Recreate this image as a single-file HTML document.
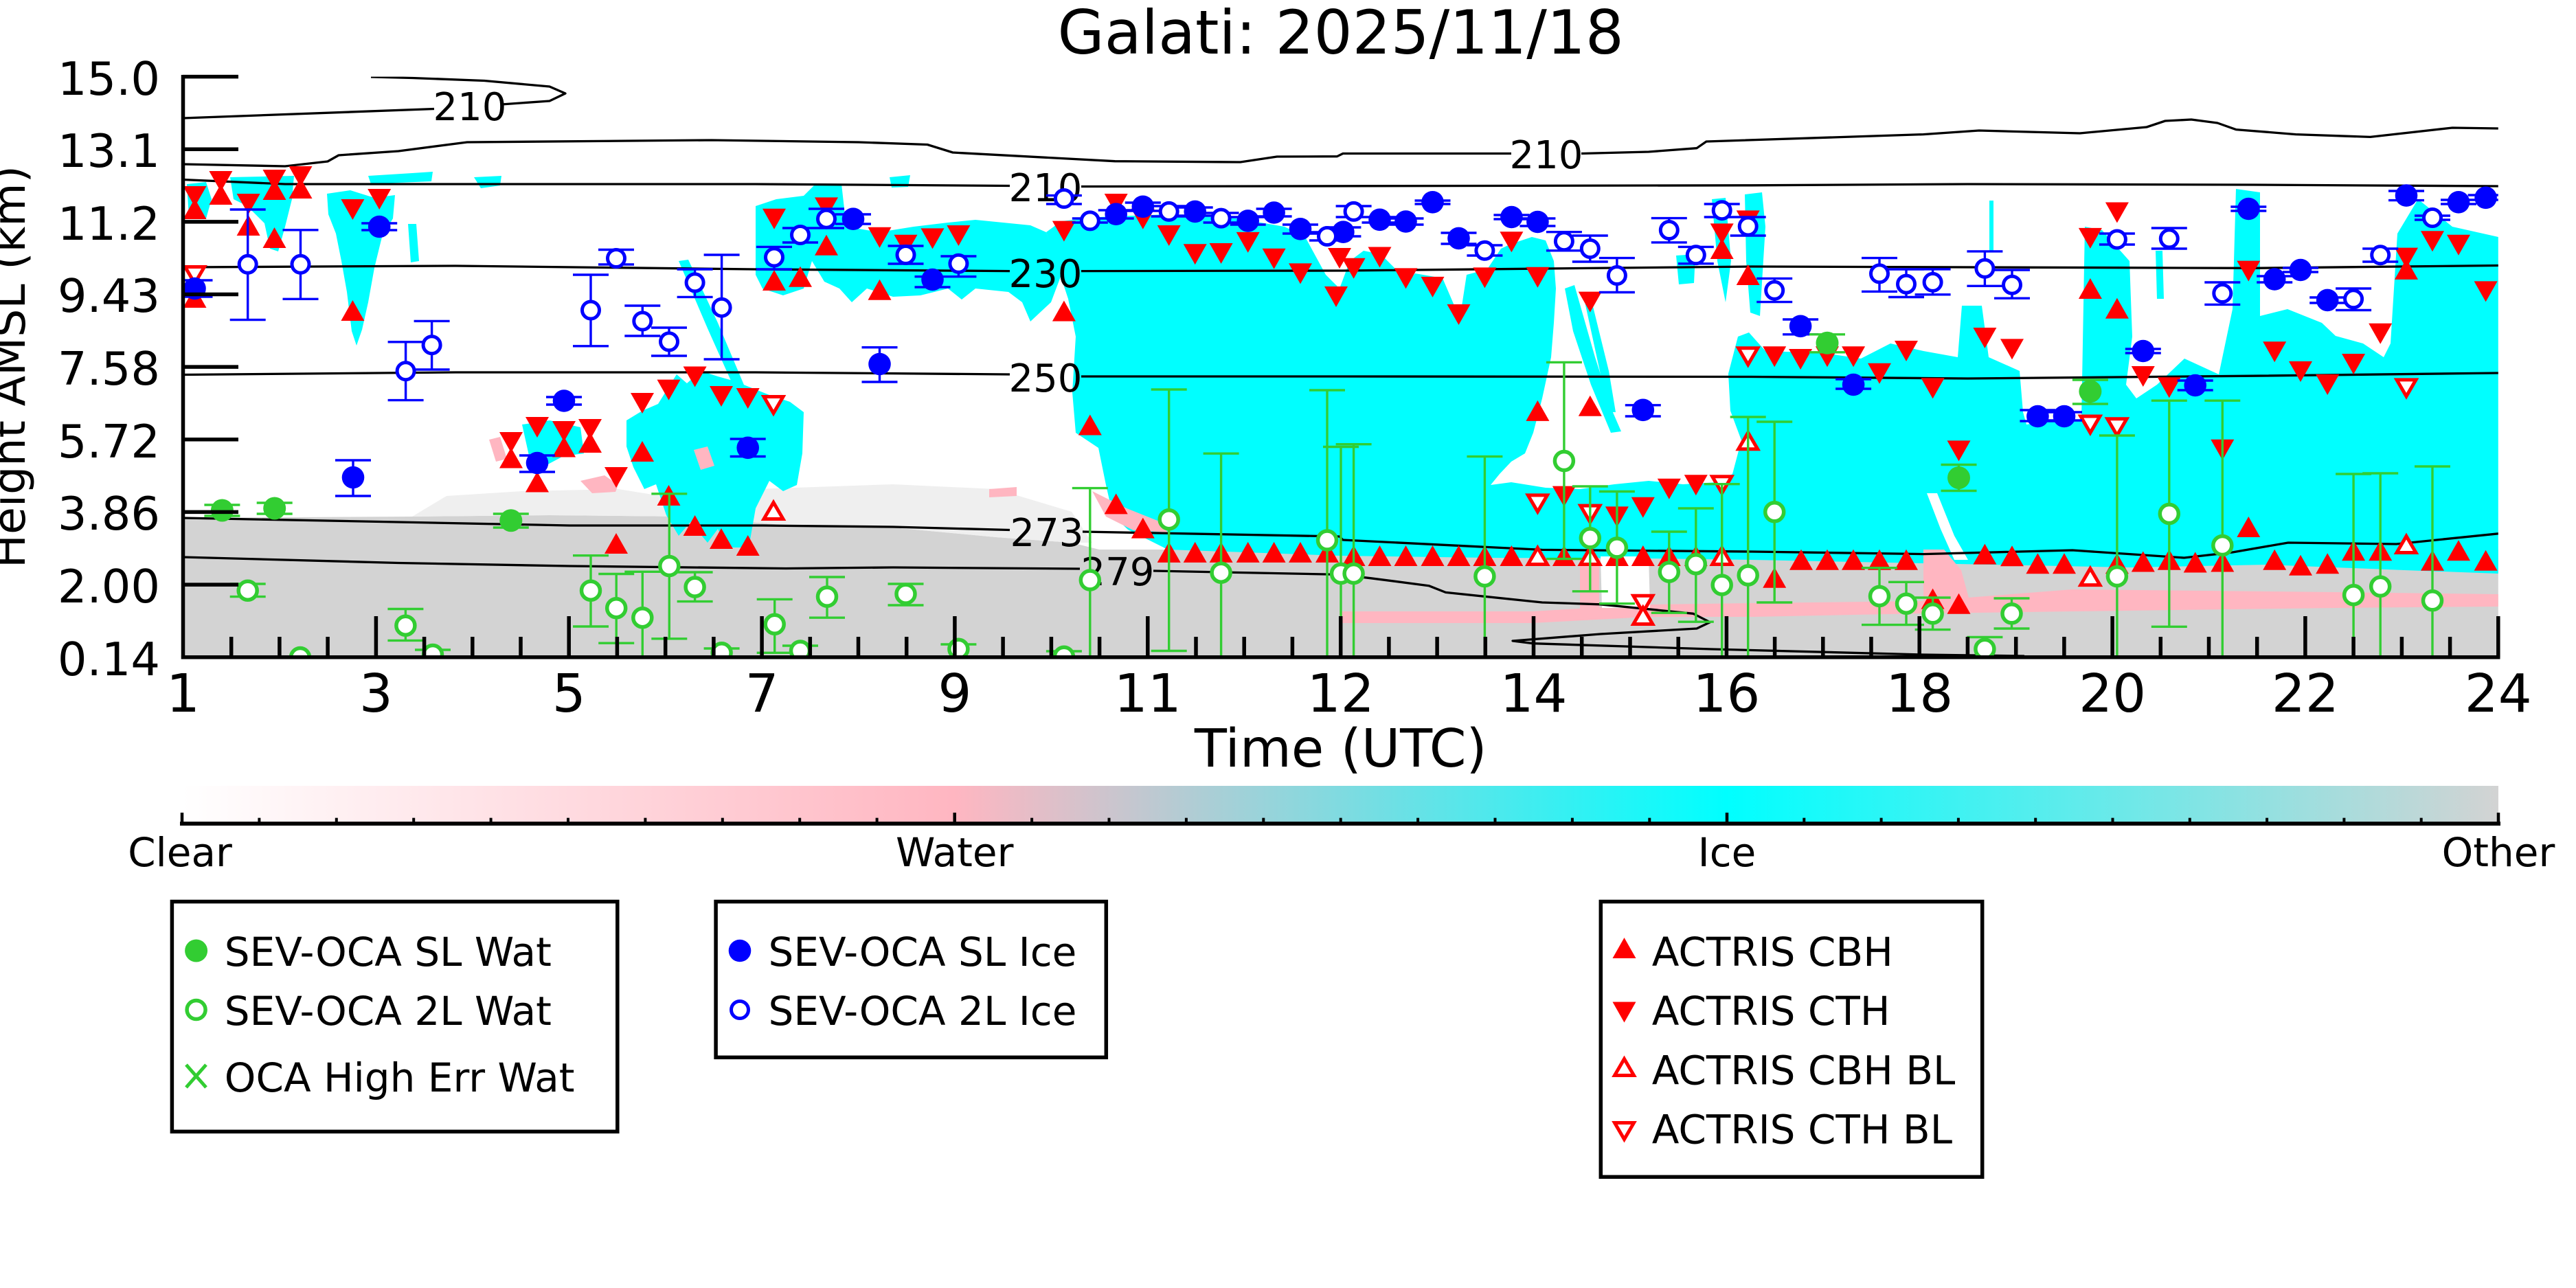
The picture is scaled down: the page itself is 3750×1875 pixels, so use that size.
<!DOCTYPE html>
<html><head><meta charset="utf-8">
<style>
html,body{margin:0;padding:0;background:#fff;width:3750px;height:1875px;overflow:hidden}
svg{display:block}
text{font-family:"DejaVu Sans","Liberation Sans",sans-serif;fill:#000}
</style></head>
<body>
<svg width="3750" height="1875" viewBox="0 0 3750 1875" xmlns="http://www.w3.org/2000/svg">
<defs>
<clipPath id="ax"><rect x="266.5" y="111.6" width="3370.3" height="845.1"/></clipPath>
<linearGradient id="cb" x1="0" x2="1" y1="0" y2="0">
<stop offset="0" stop-color="#ffffff"/><stop offset="0.3333" stop-color="#ffb6c1"/><stop offset="0.6667" stop-color="#00ffff"/><stop offset="1" stop-color="#d3d3d3"/>
</linearGradient>
<path id="tu" d="M0 -15L17 15H-17Z" fill="#f00"/>
<path id="td" d="M0 15L17 -15H-17Z" fill="#f00"/>
<path id="tuo" d="M0 -11.5L14 12.5H-14Z" fill="#fff" stroke="#f00" stroke-width="5"/>
<path id="tdo" d="M0 11.5L14 -12.5H-14Z" fill="#fff" stroke="#f00" stroke-width="5"/>
<circle id="bf" r="16.3" fill="#00f"/>
<circle id="bo" r="12.5" fill="#fff" stroke="#00f" stroke-width="5"/>
<circle id="gf" r="16.5" fill="#32cd32"/>
<circle id="go" r="13.5" fill="#fff" stroke="#32cd32" stroke-width="5.5"/>
</defs>

<text x="1951.7" y="78" font-size="88" text-anchor="middle">Galati: 2025/11/18</text>

<g clip-path="url(#ax)">
<!-- other (gray) -->
<path d="M266,754 L600,752 L800,750 L1000,752 L1150,765 L1300,768 L1450,782 L1560,790 L1600,800 L3637,800 L3637,957 L266,957 Z" fill="#d3d3d3"/>
<path d="M600,752 L650,722 L760,715 L900,712 L1000,728 L1100,712 L1300,705 L1450,712 L1560,745 L1590,790 L1560,790 L1450,782 L1300,768 L1150,765 L1000,752 L800,750 Z" fill="#efefef"/>
<!-- ice (cyan) -->
<g fill="#00ffff">
<path d="M272,268 L300,265 L308,290 L300,318 L275,316 Z"/>
<path d="M335,258 L428,256 L425,290 L415,330 L405,366 L393,362 L385,325 L360,300 L340,290 Z"/>
<path d="M536,256 L600,252 L630,250 L628,264 L580,266 L540,268 Z"/>
<path d="M690,258 L730,256 L728,270 L700,274 Z"/>
<path d="M476,282 L510,277 L545,288 L575,284 L572,318 L556,345 L545,390 L536,440 L527,480 L519,503 L512,482 L505,425 L497,380 L489,340 L478,312 Z"/>
<path d="M594,326 L606,326 L610,380 L598,382 Z"/>
<path d="M760,618 L800,612 L845,622 L850,660 L820,664 L790,680 L772,672 Z"/>
<path d="M912,612 L935,598 L958,588 L985,545 L1000,558 L1020,540 L1045,548 L1070,555 L1095,565 L1120,575 L1150,585 L1170,600 L1168,660 L1160,706 L1140,715 L1120,700 L1100,740 L1090,797 L1060,797 L1045,770 L1030,790 L1005,760 L988,780 L970,750 L955,705 L938,712 L922,680 L912,650 Z"/>
<path d="M988,380 L1002,378 L1045,470 L1085,565 L1072,572 L1030,478 Z"/>
<path d="M1100,300 L1130,290 L1170,285 L1188,267 L1225,268 L1232,330 L1280,338 L1330,330 L1380,324 L1420,320 L1460,324 L1500,328 L1523,338 L1545,400 L1530,440 L1500,468 L1488,440 L1468,425 L1420,420 L1400,436 L1380,420 L1340,430 L1300,432 L1262,420 L1240,440 L1222,420 L1200,410 L1182,380 L1170,420 L1140,430 L1110,420 L1100,400 Z"/>
<path d="M1295,258 L1325,255 L1322,272 L1298,273 Z"/>
<path d="M1642,771 L1620,750 L1610,706 L1599,652 L1566,630 L1561,571 L1566,490 L1555,435 L1523,338 L1545,322 L1600,316 L1700,312 L1800,318 L1870,330 L1900,345 L1930,400 L1950,420 L1965,380 L1985,365 L2010,370 L2035,395 L2048,413 L2060,398 L2100,405 L2115,440 L2125,465 L2135,400 L2165,392 L2185,362 L2200,355 L2230,345 L2250,350 L2262,380 L2265,420 L2262,470 L2258,520 L2245,580 L2232,630 L2220,660 L2200,672 L2183,690 L2170,706 L2200,702 L2250,710 L2300,712 L2350,705 L2400,700 L2450,705 L2500,702 L2522,690 L2535,641 L2519,598 L2516,544 L2530,490 L2546,484 L2570,511 L2655,514 L2709,522 L2752,500 L2800,511 L2850,520 L2856,445 L2885,445 L2895,520 L2940,540 L2945,600 L2950,618 L2990,612 L3030,612 L3035,330 L3060,335 L3100,380 L3104,490 L3095,560 L3110,580 L3140,560 L3180,522 L3230,545 L3250,450 L3255,275 L3290,280 L3290,460 L3330,450 L3380,470 L3400,489 L3440,500 L3470,520 L3480,500 L3490,340 L3520,290 L3570,330 L3637,345 L3637,835 L3500,830 L3300,822 L3100,826 L2900,822 L2700,818 L2550,815 L2400,813 L2170,812 L1950,809 L1700,800 Z"/>
<path d="M2278,420 L2292,415 L2322,520 L2347,598 L2360,628 L2345,630 L2316,560 L2290,482 Z"/>
<path d="M2305,430 L2315,430 L2342,540 L2352,600 L2342,600 L2330,545 Z"/>
<path d="M2492,290 L2512,288 L2520,380 L2512,440 L2500,380 Z"/>
<path d="M2540,283 L2565,280 L2570,330 L2562,460 L2548,455 L2542,380 Z"/>
<path d="M2440,372 L2468,370 L2466,412 L2444,414 Z"/>
<path d="M2896,292 L2902,292 L2902,365 L2896,365 Z"/>
<path d="M3138,365 L3148,365 L3150,435 L3140,435 Z"/>
</g>
<!-- water (pink) -->
<g fill="#ffb6c1">
<path d="M712,640 L728,636 L738,668 L722,672 Z"/>
<path d="M845,700 L880,692 L900,706 L896,716 L862,718 Z"/>
<path d="M1010,655 L1030,650 L1040,678 L1020,684 Z"/>
<path d="M1440,712 L1480,709 L1480,722 L1440,724 Z"/>
<path d="M1590,715 L1640,740 L1690,760 L1700,775 L1650,772 L1610,752 Z"/>
<path d="M1950,890 L2230,890 L2400,880 L2550,878 L2800,875 L3017,858 L3400,862 L3637,865 L3637,883 L3400,885 L3017,890 L2800,893 L2550,898 L2400,898 L2230,907 L1950,907 Z"/>
<path d="M2300,812 L2328,812 L2328,892 L2300,892 Z"/>
<path d="M2800,800 L2830,800 L2855,830 L2870,885 L2800,892 Z"/>
</g>
<path d="M2330,810 L2400,810 L2402,885 L2332,885 Z" fill="#fff"/>
<path d="M2805,718 L2820,718 L2845,780 L2865,815 L2845,815 L2825,770 Z" fill="#fff"/>

<!-- contours -->
<g fill="none" stroke="#000" stroke-width="3.3" stroke-linejoin="round">
<path d="M266,172 L632,158.5"/>
<path d="M730,152 L800,147 L823,136 L800,126 L705,117.5 L600,113.5 L540,112"/>
<path d="M266,239 L415,242 L477,235 L493,226 L580,220 L680,207 L1036,204 L1250,207 L1350,210.5 L1387,222 L1623,234.7 L1805.6,236 L1859,228 L1946.5,227.7 L1955,223.5 L2200,223.5"/>
<path d="M2302,223.5 L2400,221 L2470,215.7 L2484,206 L2800,195.6 L2881,190 L3027.7,194 L3125,185 L3152,176 L3190,174 L3228,179 L3255,188.6 L3342,195.6 L3450.5,199.4 L3570,186 L3637,187"/>
<path d="M266,261.5 L415,268 L1100,268 L1470,270.5"/>
<path d="M1574,271.5 L2550,269.8 L2864.6,268 L3279,269 L3637,271"/>
<path d="M266,389 L663,387 L1100,392 L1470,394.6"/>
<path d="M1574,394.6 L1955,394 L2550,388 L3279,390.3 L3637,386.5"/>
<path d="M266,545.5 L663,542 L1100,542 L1470,545"/>
<path d="M1574,548 L1955,548 L2550,548.5 L2864.6,551 L3279,547.2 L3637,543"/>
<path d="M266,754 L580,760 L829,765 L1111,765 L1300,767 L1470,771.5"/>
<path d="M1576,774 L1950,781 L1955,786 L2245,800.4 L2550,803 L2800,806.6 L3017,801 L3179.5,812 L3250,804 L3331,790 L3488.5,792 L3637,776.8"/>
<path d="M266,811 L580,819.5 L829,824 L1144,827.5 L1300,826 L1572,828"/>
<path d="M1679,831 L1950,836.4 L1996,841.8 L2080,852.7 L2104.5,862.4 L2245,877 L2329.5,879.8 L2465,893.3 L2489.4,905.8 L2470,915 L2329.5,923 L2202,933 L2232,936.7 L2492,945 L2800,953 L2947,955"/>
</g>
<g font-size="56" text-anchor="middle">
<text x="684" y="175">210</text>
<text x="2251" y="245">210</text>
<text x="1522" y="293">210</text>
<text x="1522" y="418">230</text>
<text x="1522" y="570">250</text>
<text x="1524" y="795">273</text>
<text x="1627" y="852">279</text>
</g>

<!-- ACTRIS -->
<g>
<use href="#tu" x="283.5" y="304"/><use href="#tu" x="321.4" y="283"/><use href="#tu" x="361.6" y="328"/><use href="#tu" x="399.5" y="276"/><use href="#tu" x="399.5" y="346"/><use href="#tu" x="437.5" y="274"/><use href="#tu" x="513.4" y="452"/><use href="#tu" x="283.5" y="433"/>
<use href="#tu" x="744" y="666.5"/><use href="#tu" x="782" y="701.5"/><use href="#tu" x="821" y="650.5"/><use href="#tu" x="859" y="644"/><use href="#tu" x="897" y="791"/><use href="#tu" x="935" y="657"/><use href="#tu" x="973.5" y="721"/><use href="#tu" x="1011.6" y="765"/><use href="#tu" x="1050" y="784"/><use href="#tu" x="1088.7" y="794"/>
<use href="#tu" x="1127" y="408"/><use href="#tu" x="1165" y="402.7"/><use href="#tu" x="1203" y="356.7"/><use href="#tu" x="1280.5" y="421.7"/>
<use href="#tu" x="1548.9" y="452.6"/><use href="#tu" x="1586.8" y="618.5"/><use href="#tu" x="1624.7" y="733.4"/><use href="#tu" x="1663.8" y="768.6"/>
<use href="#tu" x="1701.7" y="803.9"/><use href="#tu" x="1739.7" y="803.9"/><use href="#tu" x="1777.6" y="803.9"/><use href="#tu" x="1816.7" y="803.9"/><use href="#tu" x="1854.6" y="803.9"/><use href="#tu" x="1893" y="803.9"/><use href="#tu" x="1932" y="803.9"/>
<use href="#tu" x="1970.6" y="809"/><use href="#tu" x="2008.5" y="809"/><use href="#tu" x="2046.5" y="809"/><use href="#tu" x="2085.5" y="809"/><use href="#tu" x="2123.5" y="809"/><use href="#tu" x="2161.4" y="809"/><use href="#tu" x="2200.4" y="809"/><use href="#tu" x="2276.9" y="809"/><use href="#tu" x="2353.9" y="809"/><use href="#tu" x="2391.8" y="809"/><use href="#tu" x="2429.8" y="809"/><use href="#tu" x="2468.8" y="809"/>
<use href="#tu" x="2238.4" y="597.9"/><use href="#tu" x="2314.8" y="590.8"/><use href="#tu" x="2544.7" y="400"/><use href="#tu" x="2506.7" y="362"/><use href="#tu" x="2583.2" y="840.8"/>
<use href="#tu" x="2622" y="814.7"/><use href="#tu" x="2660" y="814.7"/><use href="#tu" x="2698" y="814.7"/><use href="#tu" x="2736" y="814.7"/><use href="#tu" x="2775" y="814.7"/>
<use href="#tu" x="2813.6" y="871.6"/><use href="#tu" x="2851.5" y="878.7"/><use href="#tu" x="3042.9" y="420"/><use href="#tu" x="3081.9" y="448.8"/><use href="#tu" x="3273.3" y="767"/><use href="#tu" x="3503" y="391.9"/>
<use href="#tu" x="2889.4" y="806.6"/><use href="#tu" x="2929" y="809.3"/><use href="#tu" x="2966.4" y="820.2"/><use href="#tu" x="3005" y="820.2"/><use href="#tu" x="3081.9" y="820.2"/><use href="#tu" x="3119.8" y="817.5"/><use href="#tu" x="3157.8" y="814.7"/><use href="#tu" x="3195.7" y="818.5"/><use href="#tu" x="3235.3" y="817.5"/><use href="#tu" x="3311.2" y="814.7"/><use href="#tu" x="3349" y="822.8"/><use href="#tu" x="3388.2" y="820.2"/><use href="#tu" x="3426.1" y="801.2"/><use href="#tu" x="3465.2" y="801.2"/><use href="#tu" x="3541" y="815.8"/><use href="#tu" x="3579" y="801.2"/><use href="#tu" x="3618.6" y="815.8"/>

<use href="#td" x="283.5" y="286"/><use href="#td" x="321.4" y="264"/><use href="#td" x="361.6" y="297"/><use href="#td" x="399.5" y="262"/><use href="#td" x="437.5" y="257"/><use href="#td" x="513.4" y="305"/><use href="#td" x="552.2" y="290"/>
<use href="#td" x="744" y="644"/><use href="#td" x="782" y="622"/><use href="#td" x="821" y="628"/><use href="#td" x="859" y="625"/><use href="#td" x="897" y="695"/><use href="#td" x="935" y="587"/><use href="#td" x="973.5" y="567.6"/><use href="#td" x="1011.6" y="548.5"/><use href="#td" x="1050" y="577"/><use href="#td" x="1088.7" y="580"/>
<use href="#td" x="1127" y="318.7"/><use href="#td" x="1203" y="302.4"/><use href="#td" x="1280.5" y="345.8"/><use href="#td" x="1318.5" y="356.7"/><use href="#td" x="1357.5" y="347.4"/><use href="#td" x="1395.4" y="343"/>
<use href="#td" x="1548.9" y="336.6"/><use href="#td" x="1624.7" y="297"/><use href="#td" x="1663.8" y="318.7"/><use href="#td" x="1701.7" y="343"/><use href="#td" x="1739.7" y="370.2"/><use href="#td" x="1777.6" y="369"/><use href="#td" x="1816.7" y="352.9"/><use href="#td" x="1854.6" y="376.7"/><use href="#td" x="1893" y="398.4"/><use href="#td" x="1945" y="432"/><use href="#td" x="1950" y="376"/>
<use href="#td" x="1970.6" y="390.8"/><use href="#td" x="2008.5" y="374.5"/><use href="#td" x="2046.5" y="405.4"/><use href="#td" x="2085.5" y="417.9"/><use href="#td" x="2123.5" y="458"/><use href="#td" x="2161.4" y="404.4"/><use href="#td" x="2200.4" y="352.3"/><use href="#td" x="2238.4" y="403.8"/><use href="#td" x="2314.8" y="439.6"/><use href="#td" x="2506.7" y="340.4"/><use href="#td" x="2544.7" y="321.4"/>
<use href="#td" x="2583.2" y="519.3"/><use href="#td" x="2621.1" y="523"/><use href="#td" x="2660" y="519.3"/><use href="#td" x="2698.1" y="519.3"/><use href="#td" x="2736" y="543.7"/><use href="#td" x="2775" y="511"/>
<use href="#td" x="2276.9" y="722.6"/><use href="#td" x="2353.9" y="752.4"/><use href="#td" x="2391.8" y="738.8"/><use href="#td" x="2429.8" y="711.7"/><use href="#td" x="2468.8" y="706.3"/>
<use href="#td" x="2813.6" y="565.4"/><use href="#td" x="2889.4" y="492"/><use href="#td" x="2929" y="508.4"/><use href="#td" x="2851.5" y="656.4"/><use href="#td" x="3042.9" y="346.9"/><use href="#td" x="3081.9" y="309.5"/><use href="#td" x="3119.8" y="548"/><use href="#td" x="3157.8" y="564.3"/><use href="#td" x="3235.3" y="654.8"/><use href="#td" x="3273.3" y="394.6"/><use href="#td" x="3311.2" y="512.2"/><use href="#td" x="3349" y="541"/><use href="#td" x="3388.2" y="560"/><use href="#td" x="3426.1" y="530"/><use href="#td" x="3465.2" y="485.7"/><use href="#td" x="3503" y="375.6"/><use href="#td" x="3541" y="351.2"/><use href="#td" x="3579" y="356.7"/><use href="#td" x="3618.6" y="424.4"/>

<use href="#tdo" x="283.5" y="401"/><use href="#tdo" x="1126" y="590"/><use href="#tdo" x="2238.4" y="733.4"/><use href="#tdo" x="2314.8" y="748.6"/><use href="#tdo" x="2506.7" y="706.3"/><use href="#tdo" x="2544.7" y="519.3"/><use href="#tdo" x="3042.9" y="618.5"/><use href="#tdo" x="3081.9" y="622.3"/><use href="#tdo" x="3503" y="565.4"/><use href="#tdo" x="2391.8" y="879.8"/>
<use href="#tuo" x="1126" y="743"/><use href="#tuo" x="2238.4" y="809"/><use href="#tuo" x="2314.8" y="809"/><use href="#tuo" x="2506.7" y="809"/><use href="#tuo" x="2544.7" y="641.3"/><use href="#tuo" x="2391.8" y="896"/><use href="#tuo" x="3042.9" y="839.1"/><use href="#tuo" x="3503" y="792"/>
</g>

<!-- SEV-OCA ice -->
<path fill="none" stroke="#00f" stroke-width="3.4" d="M283.5 408V432M257.5 408h52M257.5 432h52M552.2 325V335M526.2 325h52M526.2 335h52M514 670V722M488 670h52M488 722h52M782 663V687M756 663h52M756 687h52M821 578V589M795 578h52M795 589h52M1088.7 639V664.5M1062.7 639h52M1062.7 664.5h52M1242 312V326M1216 312h52M1216 326h52M1280.5 505.7V556M1254.5 505.7h52M1254.5 556h52M1357.5 402.7V418M1331.5 402.7h52M1331.5 418h52M1624.7 306V318M1598.7 306h52M1598.7 318h52M1663.8 295V307M1637.8 295h52M1637.8 307h52M1739.7 302V314M1713.7 302h52M1713.7 314h52M1816.7 316V327M1790.7 316h52M1790.7 327h52M1854.6 304V315M1828.6 304h52M1828.6 315h52M1893 327V340M1867 327h52M1867 340h52M1955.4 331V344M1929.4 331h52M1929.4 344h52M2008.5 316V324M1982.5 316h52M1982.5 324h52M2046.5 318V327M2020.5 318h52M2020.5 327h52M2085.5 292V297M2059.5 292h52M2059.5 297h52M2123.5 339V355M2097.5 339h52M2097.5 355h52M2200.4 313V319M2174.4 313h52M2174.4 319h52M2238.4 318V329M2212.4 318h52M2212.4 329h52M2391.8 589.8V606M2365.8 589.8h52M2365.8 606h52M2621.1 465V486.8M2595.1 465h52M2595.1 486.8h52M2698.1 552V566M2672.1 552h52M2672.1 566h52M2966.4 597V613M2940.4 597h52M2940.4 613h52M3005 600V612M2979 600h52M2979 612h52M3119.8 508V514M3093.8 508h52M3093.8 514h52M3195.7 554V568M3169.7 554h52M3169.7 568h52M3273.3 301V307M3247.3 301h52M3247.3 307h52M3311.2 402V411M3285.2 402h52M3285.2 411h52M3349 390V396M3323 390h52M3323 396h52M3388.2 433V441M3362.2 433h52M3362.2 441h52M3503 278V291.6M3477 278h52M3477 291.6h52M3579 291V297M3553 291h52M3553 297h52M3618.6 284V291M3592.6 284h52M3592.6 291h52
M360.7 305V465.6M334.7 305h52M334.7 465.6h52M437.5 334.8V435.3M411.5 334.8h52M411.5 435.3h52M590.6 497.8V582.6M564.6 497.8h52M564.6 582.6h52M628.6 467.4V538M602.6 467.4h52M602.6 538h52M860 400V503.8M834 400h52M834 503.8h52M897 363.5V385M871 363.5h52M871 385h52M935.3 445V489M909.3 445h52M909.3 489h52M974 477V518M948 477h52M948 518h52M1011.6 392V432.4M985.6 392h52M985.6 432.4h52M1050.6 371V523M1024.6 371h52M1024.6 523h52M1127 359.4V392M1101 359.4h52M1101 392h52M1165 332V353M1139 332h52M1139 353h52M1203 304V332M1177 304h52M1177 332h52M1318.5 358V384M1292.5 358h52M1292.5 384h52M1395.4 373V402.7M1369.4 373h52M1369.4 402.7h52M1548.9 284.6V297M1522.9 284.6h52M1522.9 297h52M1586.8 318V324M1560.8 318h52M1560.8 324h52M1701.7 300V315M1675.7 300h52M1675.7 315h52M1777.6 310V324M1751.6 310h52M1751.6 324h52M1932 338V350M1906 338h52M1906 350h52M1970.6 300V316M1944.6 300h52M1944.6 316h52M2161.4 357V372M2135.4 357h52M2135.4 372h52M2276.9 337.7V364.8M2250.9 337.7h52M2250.9 364.8h52M2314.8 343V381M2288.8 343h52M2288.8 381h52M2353.9 375.6V425.5M2327.9 375.6h52M2327.9 425.5h52M2429.8 317.6V352.9M2403.8 317.6h52M2403.8 352.9h52M2468.8 359.4V383.8M2442.8 359.4h52M2442.8 383.8h52M2506.7 297V316M2480.7 297h52M2480.7 316h52M2544.7 316V343M2518.7 316h52M2518.7 343h52M2583.2 405.4V439.6M2557.2 405.4h52M2557.2 439.6h52M2736 375.6V424.4M2710 375.6h52M2710 424.4h52M2775 392V432.5M2749 392h52M2749 432.5h52M2813.6 391.9V428.8M2787.6 391.9h52M2787.6 428.8h52M2889.4 365.9V416.3M2863.4 365.9h52M2863.4 416.3h52M2929 393V434.2M2903 393h52M2903 434.2h52M3081.9 340V356M3055.9 340h52M3055.9 356h52M3157.8 332V362M3131.8 332h52M3131.8 362h52M3235.3 411V443.4M3209.3 411h52M3209.3 443.4h52M3426.1 420V451.5M3400.1 420h52M3400.1 451.5h52M3465.2 362V381M3439.2 362h52M3439.2 381h52M3541 314V320M3515 314h52M3515 320h52"/>
<g>
<use href="#bf" x="283.5" y="420"/><use href="#bf" x="552.2" y="330"/><use href="#bf" x="514" y="695"/><use href="#bf" x="782" y="674"/><use href="#bf" x="821" y="583.5"/><use href="#bf" x="1088.7" y="651.8"/><use href="#bf" x="1242" y="318.7"/><use href="#bf" x="1280.5" y="530"/><use href="#bf" x="1357.5" y="407"/><use href="#bf" x="1624.7" y="311.7"/><use href="#bf" x="1663.8" y="300.8"/><use href="#bf" x="1739.7" y="307.9"/><use href="#bf" x="1816.7" y="321.4"/><use href="#bf" x="1854.6" y="309.5"/><use href="#bf" x="1893" y="333.3"/><use href="#bf" x="1955.4" y="337.7"/><use href="#bf" x="2008.5" y="319.8"/><use href="#bf" x="2046.5" y="322.5"/><use href="#bf" x="2085.5" y="294.3"/><use href="#bf" x="2123.5" y="346.9"/><use href="#bf" x="2200.4" y="316"/><use href="#bf" x="2238.4" y="323"/><use href="#bf" x="2391.8" y="596.8"/><use href="#bf" x="2621.1" y="474.8"/><use href="#bf" x="2698.1" y="560"/><use href="#bf" x="2966.4" y="606"/><use href="#bf" x="3005" y="606"/><use href="#bf" x="3119.8" y="511"/><use href="#bf" x="3195.7" y="561"/><use href="#bf" x="3273.3" y="304"/><use href="#bf" x="3311.2" y="406.5"/><use href="#bf" x="3349" y="393"/><use href="#bf" x="3388.2" y="436.9"/><use href="#bf" x="3503" y="284.6"/><use href="#bf" x="3579" y="294.3"/><use href="#bf" x="3618.6" y="287.8"/>
<use href="#bo" x="360.7" y="384.8"/><use href="#bo" x="437.5" y="384.8"/><use href="#bo" x="590.6" y="540.2"/><use href="#bo" x="628.6" y="502.2"/><use href="#bo" x="860" y="451.5"/><use href="#bo" x="897" y="376"/><use href="#bo" x="935.3" y="467.5"/><use href="#bo" x="974" y="497.4"/><use href="#bo" x="1011.6" y="411.4"/><use href="#bo" x="1050.6" y="447.7"/><use href="#bo" x="1127" y="374.5"/><use href="#bo" x="1165" y="342"/><use href="#bo" x="1203" y="318.7"/><use href="#bo" x="1318.5" y="371"/><use href="#bo" x="1395.4" y="383.8"/><use href="#bo" x="1548.9" y="289"/><use href="#bo" x="1586.8" y="321.4"/><use href="#bo" x="1701.7" y="307.9"/><use href="#bo" x="1777.6" y="317.6"/><use href="#bo" x="1932" y="344"/><use href="#bo" x="1970.6" y="307.9"/><use href="#bo" x="2161.4" y="364.8"/><use href="#bo" x="2276.9" y="351.2"/><use href="#bo" x="2314.8" y="362"/><use href="#bo" x="2353.9" y="401"/><use href="#bo" x="2429.8" y="335"/><use href="#bo" x="2468.8" y="371.3"/><use href="#bo" x="2506.7" y="306.2"/><use href="#bo" x="2544.7" y="329.5"/><use href="#bo" x="2583.2" y="422.8"/><use href="#bo" x="2736" y="398.4"/><use href="#bo" x="2775" y="413.6"/><use href="#bo" x="2813.6" y="410.9"/><use href="#bo" x="2889.4" y="390.8"/><use href="#bo" x="2929" y="414.7"/><use href="#bo" x="3081.9" y="348.5"/><use href="#bo" x="3157.8" y="347.4"/><use href="#bo" x="3235.3" y="427"/><use href="#bo" x="3426.1" y="435.3"/><use href="#bo" x="3465.2" y="371.3"/><use href="#bo" x="3541" y="317"/>
</g>

<!-- SEV-OCA water -->
<path fill="none" stroke="#32cd32" stroke-width="3.4" d="M323.4 735V751M297.4 735h52M297.4 751h52M399.7 732V748M373.7 732h52M373.7 748h52M743.8 748V768M717.8 748h52M717.8 768h52M2660 486.8V512.8M2634 486.8h52M2634 512.8h52M3042.9 553V588M3016.9 553h52M3016.9 588h52M2851.5 676.5V714.5M2825.5 676.5h52M2825.5 714.5h52
M360.7 850V868.6M334.7 850h52M334.7 868.6h52M590.4 886.5V932.4M564.4 886.5h52M564.4 932.4h52M630 946V960M604 946h52M860 808.7V912M834 808.7h52M834 912h52M897.2 835.5V936.2M871.2 835.5h52M871.2 936.2h52M935.3 832.3V960M909.3 832.3h52M974.3 718.8V929.8M948.3 718.8h52M948.3 929.8h52M1011.6 833V875.6M985.6 833h52M985.6 875.6h52M1050.6 944V960M1024.6 944h52M1127.7 872.4V950.3M1101.7 872.4h52M1101.7 950.3h52M1165 940V960M1139 940h52M1204 840V899.2M1178 840h52M1178 899.2h52M1318.5 850V881M1292.5 850h52M1292.5 881h52M1395.4 938V960M1369.4 938h52M1548.9 948V960M1522.9 948h52M1586.8 710.6V960M1560.8 710.6h52M1701.7 567V947.5M1675.7 567h52M1675.7 947.5h52M1777.6 660.2V960M1751.6 660.2h52M1932 568V960M1906 568h52M1952 650.5V960M1926 650.5h52M1970.6 646.7V960M1944.6 646.7h52M2161.4 664.6V960M2135.4 664.6h52M2276.9 527.4V813.6M2250.9 527.4h52M2250.9 813.6h52M2314.8 708V860.8M2288.8 708h52M2288.8 860.8h52M2353.9 715.5V878.7M2327.9 715.5h52M2327.9 878.7h52M2429.8 774V892.2M2403.8 774h52M2403.8 892.2h52M2468.8 740V905.2M2442.8 740h52M2442.8 905.2h52M2506.7 704.7V960M2480.7 704.7h52M2544.7 607V960M2518.7 607h52M2583.2 614V877M2557.2 614h52M2557.2 877h52M2736 826.7V909.6M2710 826.7h52M2710 909.6h52M2775 847.3V909.6M2749 847.3h52M2749 909.6h52M2813.6 870V916.6M2787.6 870h52M2787.6 916.6h52M2889.4 927.5V960M2863.4 927.5h52M2928.5 871V915M2902.5 871h52M2902.5 915h52M3081.9 634V960M3055.9 634h52M3157.8 583.2V912.3M3131.8 583.2h52M3131.8 912.3h52M3235.3 583.2V960M3209.3 583.2h52M3426.1 690V960M3400.1 690h52M3465.2 689V960M3439.2 689h52M3541 679V960M3515 679h52M437 950V960"/>
<g>
<use href="#gf" x="323.4" y="743"/><use href="#gf" x="399.7" y="740"/><use href="#gf" x="743.8" y="757.7"/><use href="#gf" x="2660" y="499.2"/><use href="#gf" x="3042.9" y="569.7"/><use href="#gf" x="2851.5" y="695.5"/>
<use href="#go" x="360.7" y="859.7"/><use href="#go" x="590.4" y="910.7"/><use href="#go" x="630" y="953"/><use href="#go" x="437" y="957"/><use href="#go" x="860" y="859.7"/><use href="#go" x="897.2" y="885.2"/><use href="#go" x="935.3" y="899.2"/><use href="#go" x="974.3" y="824"/><use href="#go" x="1011.6" y="854.6"/><use href="#go" x="1050.6" y="950.3"/><use href="#go" x="1127.7" y="908.8"/><use href="#go" x="1165" y="947.5"/><use href="#go" x="1204" y="868.6"/><use href="#go" x="1318.5" y="864.6"/><use href="#go" x="1395.4" y="944.8"/><use href="#go" x="1548.9" y="955.7"/><use href="#go" x="1586.8" y="844.5"/><use href="#go" x="1701.7" y="756.2"/><use href="#go" x="1777.6" y="833.7"/><use href="#go" x="1932" y="786.5"/><use href="#go" x="1952" y="835"/><use href="#go" x="1970.6" y="835"/><use href="#go" x="2161.4" y="839"/><use href="#go" x="2276.9" y="671"/><use href="#go" x="2314.8" y="783.3"/><use href="#go" x="2353.9" y="797.4"/><use href="#go" x="2429.8" y="832.6"/><use href="#go" x="2468.8" y="821.2"/><use href="#go" x="2506.7" y="851.6"/><use href="#go" x="2544.7" y="837.5"/><use href="#go" x="2583.2" y="745.3"/><use href="#go" x="2736" y="867.9"/><use href="#go" x="2775" y="878.7"/><use href="#go" x="2813.6" y="893.3"/><use href="#go" x="2889.4" y="944.8"/><use href="#go" x="2928.5" y="893.3"/><use href="#go" x="3081.9" y="839"/><use href="#go" x="3157.8" y="748"/><use href="#go" x="3235.3" y="794"/><use href="#go" x="3426.1" y="866.2"/><use href="#go" x="3465.2" y="853.8"/><use href="#go" x="3541" y="874.3"/>
</g>
</g>

<!-- axes -->
<g stroke="#000" stroke-width="5.5" fill="none">
<path d="M266.5 109V959.5M263.7 956.7H3639.5"/>
<path d="M266 851.1H347M266 745.4H347M266 639.8H347M266 534.1H347M266 428.5H347M266 322.9H347M266 217.2H347M266 111.6H347"/>
<path d="M547.4 957V897M828.2 957V897M1109.1 957V897M1389.9 957V897M1670.8 957V897M1951.7 957V897M2232.5 957V897M2513.4 957V897M2794.2 957V897M3075.1 957V897M3355.9 957V897M3636.8 957V897"/>
<path d="M336.7 957V927M406.9 957V927M477.1 957V927M617.6 957V927M687.8 957V927M758 957V927M898.4 957V927M968.7 957V927M1038.9 957V927M1179.3 957V927M1249.5 957V927M1319.7 957V927M1460.1 957V927M1530.4 957V927M1600.6 957V927M1741 957V927M1811.2 957V927M1881.4 957V927M2021.9 957V927M2092.1 957V927M2162.3 957V927M2302.7 957V927M2373 957V927M2443.2 957V927M2583.6 957V927M2653.8 957V927M2724 957V927M2864.4 957V927M2934.7 957V927M3004.9 957V927M3145.3 957V927M3215.5 957V927M3285.7 957V927M3426.1 957V927M3496.4 957V927M3566.6 957V927"/>
</g>
<g font-size="67" text-anchor="end">
<text x="233" y="983">0.14</text><text x="233" y="877">2.00</text><text x="233" y="771">3.86</text><text x="233" y="666">5.72</text><text x="233" y="560">7.58</text><text x="233" y="454">9.43</text><text x="233" y="349">11.2</text><text x="233" y="243">13.1</text><text x="233" y="138">15.0</text>
</g>
<g font-size="77" text-anchor="middle">
<text x="266.5" y="1036">1</text><text x="547.4" y="1036">3</text><text x="828.2" y="1036">5</text><text x="1109.1" y="1036">7</text><text x="1389.9" y="1036">9</text><text x="1670.8" y="1036">11</text><text x="1951.7" y="1036">12</text><text x="2232.5" y="1036">14</text><text x="2513.4" y="1036">16</text><text x="2794.2" y="1036">18</text><text x="3075.1" y="1036">20</text><text x="3355.9" y="1036">22</text><text x="3636.8" y="1036">24</text>
<text x="1951.7" y="1116">Time (UTC)</text>
</g>
<text transform="translate(36,534) rotate(-90)" font-size="65" text-anchor="middle">Height AMSL (km)</text>

<!-- colorbar -->
<rect x="265" y="1144" width="3372" height="54" fill="url(#cb)"/>
<g stroke="#000" fill="none">
<path d="M262 1199H3640" stroke-width="5.8"/>
<path d="M265 1201V1183M1389.7 1201V1183M2514 1201V1183M3637 1201V1183" stroke-width="4.5"/>
<path d="M377.4 1199V1190.6M489.8 1199V1190.6M602.2 1199V1190.6M714.6 1199V1190.6M827 1199V1190.6M939.4 1199V1190.6M1051.8 1199V1190.6M1164.2 1199V1190.6M1276.6 1199V1190.6M1502.1 1199V1190.6M1614.5 1199V1190.6M1726.9 1199V1190.6M1839.3 1199V1190.6M1951.7 1199V1190.6M2064.1 1199V1190.6M2176.5 1199V1190.6M2288.9 1199V1190.6M2401.3 1199V1190.6M2626.3 1199V1190.6M2738.6 1199V1190.6M2850.9 1199V1190.6M2963.2 1199V1190.6M3075.5 1199V1190.6M3187.8 1199V1190.6M3300.1 1199V1190.6M3412.4 1199V1190.6M3524.7 1199V1190.6" stroke-width="4"/>
</g>
<g font-size="58" text-anchor="middle">
<text x="262" y="1261">Clear</text><text x="1389.7" y="1261">Water</text><text x="2514" y="1261">Ice</text><text x="3637" y="1261">Other</text>
</g>

<!-- legends -->
<g fill="#fff" stroke="#000" stroke-width="5.5">
<rect x="250.4" y="1312.5" width="648.4" height="334.8"/>
<rect x="1042.1" y="1312.5" width="568.2" height="226.8"/>
<rect x="2330.3" y="1312.5" width="555.4" height="400.8"/>
</g>
<circle cx="285.6" cy="1384" r="16.5" fill="#32cd32"/>
<circle cx="285.6" cy="1470" r="13.5" fill="#fff" stroke="#32cd32" stroke-width="5.5"/>
<path d="M271 1550L300 1583M300 1550L271 1583" stroke="#32cd32" stroke-width="5" fill="none"/>
<circle cx="1077" cy="1384" r="16.3" fill="#00f"/>
<circle cx="1077" cy="1470" r="12.5" fill="#fff" stroke="#00f" stroke-width="5"/>
<use href="#tu" x="2364.5" y="1380"/>
<use href="#td" x="2364.5" y="1473.5"/>
<use href="#tuo" x="2364.5" y="1553"/>
<use href="#tdo" x="2364.5" y="1647"/>
<g font-size="58">
<text x="326.8" y="1405.8">SEV-OCA SL Wat</text>
<text x="326.8" y="1492">SEV-OCA 2L Wat</text>
<text x="326.8" y="1588.8">OCA High Err Wat</text>
<text x="1118.5" y="1405.8">SEV-OCA SL Ice</text>
<text x="1118.5" y="1492">SEV-OCA 2L Ice</text>
<text x="2404.7" y="1405.8">ACTRIS CBH</text>
<text x="2404.7" y="1492">ACTRIS CTH</text>
<text x="2404.7" y="1578.6">ACTRIS CBH BL</text>
<text x="2404.7" y="1664.7">ACTRIS CTH BL</text>
</g>
</svg>
</body></html>
